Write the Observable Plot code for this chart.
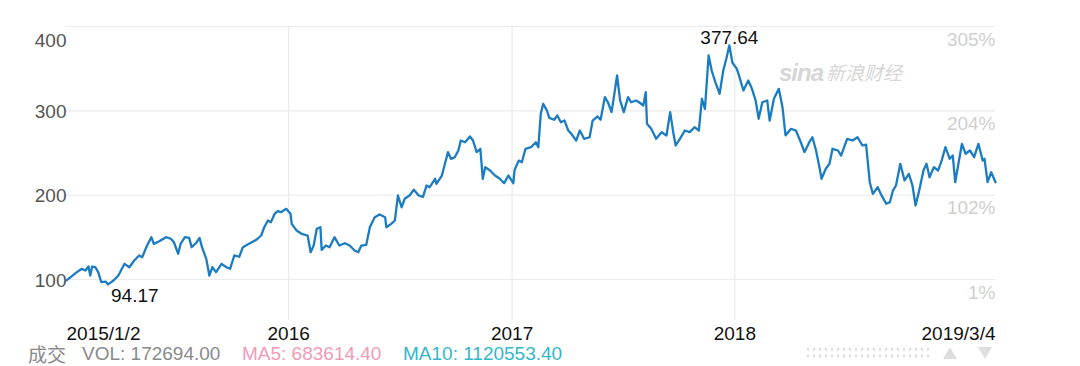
<!DOCTYPE html>
<html>
<head>
<meta charset="utf-8">
<script src="https://cdn.jsdelivr.net/npm/d3@7"></script>
<script src="https://cdn.jsdelivr.net/npm/@observablehq/plot@0.6"></script>
<style>
  html, body { margin: 0; padding: 0; background: #fff; }
  #wrap { position: relative; width: 1080px; height: 366px; overflow: hidden;
          font-family: "Liberation Sans", Arial, "Noto Sans CJK SC", sans-serif; }
  #chart { position: absolute; left: 0; top: 0; }
  .abs { position: absolute; white-space: nowrap; }
  #legend span { position: absolute; top: 0; font-size: 19px; line-height: 15px; }
  .wm { color: #d6d6d6; }
  #dots { position: absolute; left: 805px; top: 346px; width: 126px; height: 13px;
          background-image: radial-gradient(circle, #dcdcdc 1.2px, transparent 1.4px);
          background-size: 6px 6.5px; }
  .tri-up { position: absolute; left: 943px; top: 347px; width: 0; height: 0;
            border-left: 7px solid transparent; border-right: 7px solid transparent;
            border-bottom: 12px solid #dedede; }
  .tri-down { position: absolute; left: 978px; top: 347px; width: 0; height: 0;
            border-left: 7.5px solid transparent; border-right: 7.5px solid transparent;
            border-top: 12px solid #dedede; }
</style>
</head>
<body>
<div id="wrap">
  <div id="chart"></div>
  <div class="abs wm" style="left:779px;top:59px;font-size:24px;font-weight:bold;font-style:italic;letter-spacing:-1px;">sina</div>
  <div class="abs wm" style="left:826px;top:62px;font-size:19px;font-style:italic;font-family:'Noto Sans CJK SC',sans-serif;line-height:20px;">新浪财经</div>
  <div id="legend" class="abs" style="left:0;top:346px;width:1080px;height:18px;"></div>
  <div id="dots"></div>
  <div class="tri-up"></div>
  <div class="tri-down"></div>
</div>
<script>
// ---- data ----
const dates = [
"2015-01-02","2015-01-19","2015-01-27","2015-02-02","2015-02-07","2015-02-10","2015-02-13","2015-02-18","2015-02-23","2015-02-28",
"2015-03-07","2015-03-11","2015-03-20","2015-03-28","2015-04-07","2015-04-15","2015-04-23","2015-05-01","2015-05-06","2015-05-14",
"2015-05-21","2015-05-25","2015-06-03","2015-06-14","2015-06-22","2015-06-27","2015-07-04","2015-07-08","2015-07-15","2015-07-22",
"2015-07-26","2015-08-02","2015-08-08","2015-08-12","2015-08-19","2015-08-24","2015-08-29","2015-09-04","2015-09-13","2015-09-21",
"2015-09-27","2015-10-04","2015-10-12","2015-10-18","2015-10-28","2015-11-09","2015-11-17","2015-11-22","2015-11-28","2015-12-03",
"2015-12-09","2015-12-14","2015-12-19","2015-12-28",
"2016-01-04","2016-01-06","2016-01-12","2016-01-14","2016-01-22","2016-02-01","2016-02-06","2016-02-11","2016-02-16","2016-02-22",
"2016-02-24","2016-03-02","2016-03-08","2016-03-16","2016-03-24","2016-04-02","2016-04-10","2016-04-18","2016-04-24","2016-04-29",
"2016-05-07","2016-05-13","2016-05-21","2016-05-29","2016-06-07","2016-06-09","2016-06-17","2016-06-23","2016-06-28","2016-07-04",
"2016-07-09","2016-07-17","2016-07-24","2016-08-01","2016-08-08","2016-08-14","2016-08-19","2016-08-28","2016-08-30","2016-09-08",
"2016-09-13","2016-09-18","2016-09-23","2016-09-29","2016-10-05","2016-10-09","2016-10-16","2016-10-24","2016-10-29","2016-11-04",
"2016-11-10","2016-11-14","2016-11-18","2016-11-26","2016-12-04","2016-12-12","2016-12-19","2016-12-26",
"2017-01-03","2017-01-05","2017-01-07","2017-01-12","2017-01-17","2017-01-23","2017-02-01","2017-02-09","2017-02-13","2017-02-17",
"2017-02-21","2017-02-27","2017-03-03","2017-03-11","2017-03-16","2017-03-22","2017-03-28","2017-04-03","2017-04-08","2017-04-16",
"2017-04-22","2017-04-29","2017-05-08","2017-05-13","2017-05-21","2017-05-26","2017-06-02","2017-06-07","2017-06-13","2017-06-18",
"2017-06-22","2017-06-27","2017-07-03","2017-07-10","2017-07-15","2017-07-23","2017-07-28","2017-08-04","2017-08-08","2017-08-10",
"2017-08-17","2017-08-25","2017-09-03","2017-09-11","2017-09-17","2017-09-22","2017-09-26","2017-10-03","2017-10-11","2017-10-19",
"2017-10-27","2017-11-03","2017-11-08","2017-11-13","2017-11-19","2017-11-24","2017-11-30","2017-12-07","2017-12-13","2017-12-18",
"2017-12-23","2017-12-28",
"2018-01-04","2018-01-07","2018-01-15","2018-01-23","2018-01-29","2018-02-04","2018-02-09","2018-02-15","2018-02-23","2018-02-27",
"2018-03-06","2018-03-14","2018-03-20","2018-03-25","2018-04-03","2018-04-11","2018-04-19","2018-04-25","2018-05-03","2018-05-08",
"2018-05-14","2018-05-19","2018-05-23","2018-05-30","2018-06-05","2018-06-10","2018-06-19","2018-06-24","2018-06-29","2018-07-04",
"2018-07-13","2018-07-21","2018-07-29","2018-08-04","2018-08-10","2018-08-15","2018-08-23","2018-08-28","2018-09-06","2018-09-12",
"2018-09-17","2018-09-22","2018-09-29","2018-10-06","2018-10-13","2018-10-19","2018-10-24","2018-10-30","2018-11-06","2018-11-11",
"2018-11-16","2018-11-23","2018-11-30","2018-12-05","2018-12-12","2018-12-19","2018-12-24","2018-12-28",
"2019-01-08","2019-01-14","2019-01-21","2019-01-28","2019-02-04","2019-02-11","2019-02-14","2019-02-19","2019-02-25","2019-03-04"
];
const values = [
99.0,108.7,112.7,110.7,115.4,104.7,115.4,114.6,108.7,96.8,
97.5,94.17,98.8,104.7,118.6,114.6,122.5,128.5,126.4,140.3,
150.2,142.3,145.4,150.2,148.3,144.2,130.5,142.3,150.2,149.4,
138.3,143.0,149.4,138.3,124.5,104.7,114.6,108.7,118.6,114.6,
112.7,128.5,127.0,138.3,142.3,147.1,152.2,162.0,170.0,168.0,
177.9,181.0,179.8,183.8,
178.0,166.0,160.1,158.1,154.2,152.2,132.4,140.3,160.1,162.0,
135.2,140.3,138.3,150.2,140.3,143.0,140.3,134.4,132.4,140.3,
141.0,162.0,173.9,177.1,173.9,162.0,166.0,170.0,199.6,185.7,
195.7,199.6,206.4,199.6,198.0,211.5,209.4,219.4,213.5,223.3,
237.2,251.0,243.1,245.0,253.0,264.8,262.8,269.6,264.8,251.0,
255.0,219.4,233.2,229.3,223.3,219.4,214.2,223.3,
214.2,229.3,233.2,241.0,239.1,255.0,256.9,262.8,256.9,296.5,
308.3,300.4,291.7,289.4,294.5,286.5,288.5,276.7,272.8,264.8,
276.7,266.8,268.7,288.5,293.3,289.4,316.2,310.2,298.4,322.1,
341.9,312.3,298.4,316.2,310.2,312.3,310.2,306.3,322.1,284.6,
278.7,266.8,274.7,270.8,298.4,274.7,258.9,266.8,276.7,274.7,
280.6,276.7,314.3,302.4,365.6,347.8,334.0,320.2,347.8,361.7,
377.64,357.0,
350.0,343.9,324.1,336.0,326.1,312.3,290.6,310.2,312.3,288.5,
314.3,326.1,304.3,270.8,278.7,276.7,262.8,251.0,262.8,268.7,
253.0,235.2,219.4,231.3,237.2,255.0,253.0,247.0,256.9,266.8,
264.8,268.7,258.9,260.0,215.4,201.6,209.4,201.6,189.8,191.7,
205.5,211.5,237.2,217.4,225.3,211.5,187.7,205.5,229.3,237.2,
221.3,233.2,229.3,239.1,256.9,243.1,247.0,215.4,
260.9,249.1,253.0,245.0,260.9,241.1,243.1,215.4,227.2,215.4
];
const yTicks = [100, 200, 300, 400];
const pctLabels = ["1%", "102%", "204%", "305%"];
const yearLines = ["2016-01-01", "2017-01-01", "2018-01-01"];
const xTickDates = ["2015-01-02", "2016-01-01", "2017-01-01", "2018-01-01", "2019-03-04"];
const xTickLabels = ["2015/1/2", "2016", "2017", "2018", "2019/3/4"];
const maxPoint = {date: "2017-12-23", value: 377.64, label: "377.64"};
const minPoint = {date: "2015-03-11", value: 94.17, label: "94.17"};
const legendItems = [
  {label: "成交", color: "#8a8a8a"},
  {label: "VOL: 172694.00", color: "#8a8a8a"},
  {label: "MA5: 683614.40", color: "#f29ab7"},
  {label: "MA10: 1120553.40", color: "#33b8c8"}
];

// ---- build ----
const parse = d3.utcParse("%Y-%m-%d");
const series = dates.map((d, i) => ({date: parse(d), value: values[i]}));
const ticks = xTickDates.map((d, i) => ({date: parse(d), label: xTickLabels[i]}));
const font = "'Liberation Sans', Arial, sans-serif";
const fs = 19;

const chart = Plot.plot({
  width: 1080,
  height: 344,
  marginLeft: 66,
  marginRight: 85,
  marginTop: 26,
  marginBottom: 24,
  style: {fontFamily: font, background: "transparent", overflow: "visible"},
  x: {type: "utc", domain: [parse(xTickDates[0]), parse(xTickDates[4])], axis: null},
  y: {domain: [51.4, 400], axis: null},
  marks: [
    Plot.ruleY(yTicks, {stroke: "#ebebeb", strokeWidth: 1.2}),
    Plot.ruleX(yearLines.map(parse), {stroke: "#ebebeb", strokeWidth: 1.2}),
    Plot.line(series, {x: "date", y: "value", stroke: "#1b7cc2", strokeWidth: 2.3, strokeLinejoin: "round"}),
    // left y labels
    Plot.text(yTicks.slice(0, 3), {y: d => d, text: d => String(d), frameAnchor: "left", textAnchor: "end",
      dx: 0, dy: 1, fontSize: fs, fill: "#555"}),
    Plot.text(yTicks.slice(3), {y: d => d, text: d => String(d), frameAnchor: "left", textAnchor: "end",
      dx: 0, dy: 14, fontSize: fs, fill: "#555"}),
    // right percentage labels
    Plot.text(yTicks, {y: d => d, text: (d, i) => pctLabels[i], frameAnchor: "right", textAnchor: "end",
      dy: 13, fontSize: fs, fill: "#cfcfcf"}),
    // x tick labels
    Plot.text(ticks.slice(0, 1), {x: "date", text: "label", frameAnchor: "bottom", lineAnchor: "top",
      dy: 6, textAnchor: "start", fontSize: fs, fill: "#111"}),
    Plot.text(ticks.slice(1, 4), {x: "date", text: "label", frameAnchor: "bottom", lineAnchor: "top",
      dy: 6, textAnchor: "middle", fontSize: fs, fill: "#111"}),
    Plot.text(ticks.slice(4), {x: "date", text: "label", frameAnchor: "bottom", lineAnchor: "top",
      dy: 6, textAnchor: "end", fontSize: fs, fill: "#111"}),
    // max / min annotations
    Plot.text([maxPoint], {x: d => parse(d.date), y: "value", text: "label", lineAnchor: "bottom",
      dy: -1, textAnchor: "middle", fontSize: fs, fill: "#111"}),
    Plot.text([minPoint], {x: d => parse(d.date), y: "value", text: "label", lineAnchor: "top",
      dx: 3, dy: 4, textAnchor: "start", fontSize: fs, fill: "#111"})
  ]
});
document.getElementById("chart").appendChild(chart);

// legend line below the chart
const legendLeft = [28, 82, 242, 403];
const legend = document.getElementById("legend");
legendItems.forEach((item, i) => {
  const s = document.createElement("span");
  s.textContent = item.label;
  s.style.color = item.color;
  s.style.left = legendLeft[i] + "px";
  if (i === 0) s.style.fontFamily = "'Noto Sans CJK SC', sans-serif";
  legend.appendChild(s);
});
</script>
</body>
</html>
